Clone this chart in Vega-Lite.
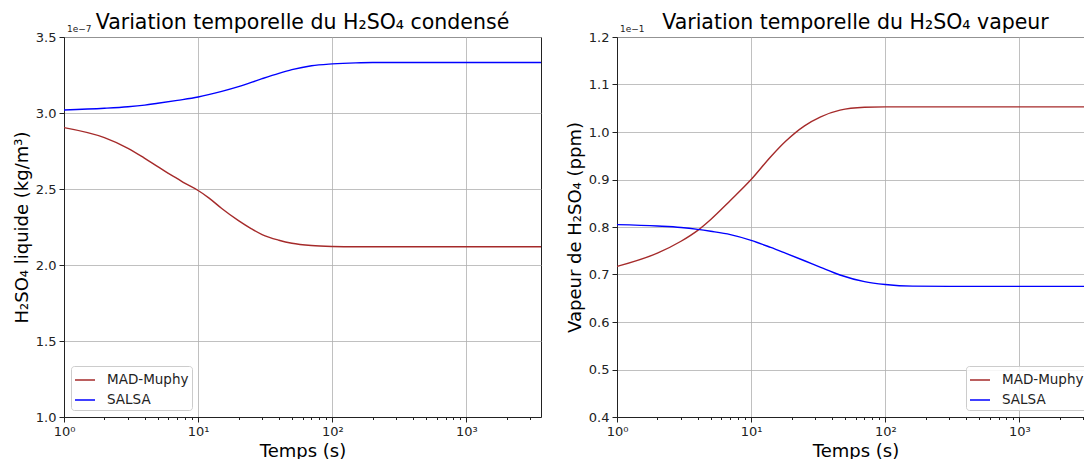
{
  "$schema": "https://vega.github.io/schema/vega-lite/v6.json",
  "padding": {"left": 12, "top": 12, "right": 0, "bottom": 0},
  "spacing": 23,
  "config": {
    "font": "DejaVu Sans",
    "view": {"stroke": "#222", "strokeWidth": 1},
    "title": {"fontSize": 20.5, "fontWeight": "normal", "color": "#000", "anchor": "middle", "offset": -8},
    "axis": {
      "labelFontSize": 13, "labelColor": "#222", "titleFontSize": 18, "titleFontWeight": "normal", "titleColor": "#000",
      "domainColor": "#222", "tickColor": "#222", "gridColor": "#b0b0b0", "gridWidth": 0.8,
      "labelPadding": 3, "titlePadding": 4
    },
    "legend": {
      "orient": "bottom-left", "title": null, "labelFontSize": 13.5, "labelColor": "#222",
      "symbolType": "stroke", "symbolSize": 400, "symbolStrokeWidth": 1.5,
      "strokeColor": "#cccccc", "fillColor": "rgba(255,255,255,0.85)", "cornerRadius": 3,
      "padding": 3, "rowPadding": 2, "labelOffset": 11, "offset": 7
    }
  },
  "datasets": {
    "cond": [
      {"t": 1, "model": "MAD-Muphy", "value": 2.904e-7},
      {"t": 2, "model": "MAD-Muphy", "value": 2.838e-7},
      {"t": 3, "model": "MAD-Muphy", "value": 2.768e-7},
      {"t": 4, "model": "MAD-Muphy", "value": 2.702e-7},
      {"t": 5, "model": "MAD-Muphy", "value": 2.647e-7},
      {"t": 6, "model": "MAD-Muphy", "value": 2.603e-7},
      {"t": 7, "model": "MAD-Muphy", "value": 2.568e-7},
      {"t": 8, "model": "MAD-Muphy", "value": 2.537e-7},
      {"t": 10, "model": "MAD-Muphy", "value": 2.490e-7},
      {"t": 12, "model": "MAD-Muphy", "value": 2.442e-7},
      {"t": 15, "model": "MAD-Muphy", "value": 2.372e-7},
      {"t": 20, "model": "MAD-Muphy", "value": 2.292e-7},
      {"t": 25, "model": "MAD-Muphy", "value": 2.238e-7},
      {"t": 30, "model": "MAD-Muphy", "value": 2.200e-7},
      {"t": 40, "model": "MAD-Muphy", "value": 2.163e-7},
      {"t": 50, "model": "MAD-Muphy", "value": 2.143e-7},
      {"t": 70, "model": "MAD-Muphy", "value": 2.128e-7},
      {"t": 100, "model": "MAD-Muphy", "value": 2.122e-7},
      {"t": 150, "model": "MAD-Muphy", "value": 2.120e-7},
      {"t": 200, "model": "MAD-Muphy", "value": 2.120e-7},
      {"t": 500, "model": "MAD-Muphy", "value": 2.120e-7},
      {"t": 1000, "model": "MAD-Muphy", "value": 2.120e-7},
      {"t": 3600, "model": "MAD-Muphy", "value": 2.120e-7},
      {"t": 1, "model": "SALSA", "value": 3.020e-7},
      {"t": 2, "model": "SALSA", "value": 3.031e-7},
      {"t": 3, "model": "SALSA", "value": 3.041e-7},
      {"t": 4, "model": "SALSA", "value": 3.052e-7},
      {"t": 5, "model": "SALSA", "value": 3.064e-7},
      {"t": 7, "model": "SALSA", "value": 3.083e-7},
      {"t": 10, "model": "SALSA", "value": 3.105e-7},
      {"t": 15, "model": "SALSA", "value": 3.142e-7},
      {"t": 20, "model": "SALSA", "value": 3.173e-7},
      {"t": 30, "model": "SALSA", "value": 3.226e-7},
      {"t": 40, "model": "SALSA", "value": 3.261e-7},
      {"t": 50, "model": "SALSA", "value": 3.285e-7},
      {"t": 70, "model": "SALSA", "value": 3.311e-7},
      {"t": 100, "model": "SALSA", "value": 3.323e-7},
      {"t": 150, "model": "SALSA", "value": 3.330e-7},
      {"t": 200, "model": "SALSA", "value": 3.332e-7},
      {"t": 500, "model": "SALSA", "value": 3.332e-7},
      {"t": 1000, "model": "SALSA", "value": 3.332e-7},
      {"t": 3600, "model": "SALSA", "value": 3.332e-7}
    ],
    "vap": [
      {"t": 1, "model": "MAD-Muphy", "value": 0.0717},
      {"t": 2, "model": "MAD-Muphy", "value": 0.0745},
      {"t": 3, "model": "MAD-Muphy", "value": 0.0770},
      {"t": 4, "model": "MAD-Muphy", "value": 0.0793},
      {"t": 5, "model": "MAD-Muphy", "value": 0.0816},
      {"t": 7, "model": "MAD-Muphy", "value": 0.0856},
      {"t": 10, "model": "MAD-Muphy", "value": 0.0900},
      {"t": 14, "model": "MAD-Muphy", "value": 0.0948},
      {"t": 18, "model": "MAD-Muphy", "value": 0.0980},
      {"t": 25, "model": "MAD-Muphy", "value": 0.1013},
      {"t": 33, "model": "MAD-Muphy", "value": 0.1032},
      {"t": 46, "model": "MAD-Muphy", "value": 0.1046},
      {"t": 70, "model": "MAD-Muphy", "value": 0.1052},
      {"t": 100, "model": "MAD-Muphy", "value": 0.1053},
      {"t": 200, "model": "MAD-Muphy", "value": 0.1053},
      {"t": 1000, "model": "MAD-Muphy", "value": 0.1053},
      {"t": 3600, "model": "MAD-Muphy", "value": 0.1053},
      {"t": 1, "model": "SALSA", "value": 0.0805},
      {"t": 2, "model": "SALSA", "value": 0.0802},
      {"t": 3, "model": "SALSA", "value": 0.0799},
      {"t": 4, "model": "SALSA", "value": 0.0795},
      {"t": 5, "model": "SALSA", "value": 0.0791},
      {"t": 7, "model": "SALSA", "value": 0.0784},
      {"t": 10, "model": "SALSA", "value": 0.0772},
      {"t": 14, "model": "SALSA", "value": 0.0757},
      {"t": 18, "model": "SALSA", "value": 0.0745},
      {"t": 25, "model": "SALSA", "value": 0.0729},
      {"t": 33, "model": "SALSA", "value": 0.0715},
      {"t": 46, "model": "SALSA", "value": 0.0699},
      {"t": 70, "model": "SALSA", "value": 0.0685},
      {"t": 100, "model": "SALSA", "value": 0.0679},
      {"t": 160, "model": "SALSA", "value": 0.06755},
      {"t": 300, "model": "SALSA", "value": 0.0675},
      {"t": 1000, "model": "SALSA", "value": 0.0675},
      {"t": 3600, "model": "SALSA", "value": 0.0675}
    ],
    "offcond": [{"t": 1, "value": 3.5e-7, "label": "1e−7"}],
    "offvap": [{"t": 1, "value": 0.12, "label": "1e−1"}]
  },
  "hconcat": [
    {
      "width": 477,
      "height": 380,
      "title": "Variation temporelle du H₂SO₄ condensé",
      "layer": [
        {
          "data": {"name": "cond"},
          "mark": {"type": "line", "strokeWidth": 1.4, "clip": true, "interpolate": "monotone"},
          "encoding": {
            "x": {
              "field": "t", "type": "quantitative", "title": "Temps (s)",
              "scale": {"type": "log", "domain": [1, 3600], "nice": false},
              "axis": {
                "values": [1,2,3,4,5,6,7,8,9,10,20,30,40,50,60,70,80,90,100,200,300,400,500,600,700,800,900,1000,2000,3000],
                "labelExpr": "datum.value == 1 ? '10⁰' : datum.value == 10 ? '10¹' : datum.value == 100 ? '10²' : datum.value == 1000 ? '10³' : ''",
                "tickSize": {"condition": {"test": "datum.value == 1 || datum.value == 10 || datum.value == 100 || datum.value == 1000", "value": 5}, "value": 2.5},
                "gridOpacity": {"condition": {"test": "datum.value == 1 || datum.value == 10 || datum.value == 100 || datum.value == 1000", "value": 1}, "value": 0},
                "labelFlush": false
              }
            },
            "y": {
              "field": "value", "type": "quantitative", "title": "H₂SO₄ liquide (kg/m³)",
              "scale": {"domain": [1e-7, 3.5e-7], "nice": false, "zero": false},
              "axis": {"values": [1e-7, 1.5e-7, 2e-7, 2.5e-7, 3e-7, 3.5e-7], "labelExpr": "format(datum.value * 1e7, '.1f')", "tickSize": 5}
            },
            "color": {
              "field": "model", "type": "nominal",
              "scale": {"domain": ["MAD-Muphy", "SALSA"], "range": ["#a52a2a", "#0000ff"]},
              "legend": {"orient": "bottom-left"}
            }
          }
        },
        {
          "data": {"name": "offcond"},
          "mark": {"type": "text", "align": "left", "baseline": "bottom", "dx": 3, "dy": -3, "fontSize": 9, "color": "#222"},
          "encoding": {
            "x": {"field": "t", "type": "quantitative"},
            "y": {"field": "value", "type": "quantitative"},
            "text": {"field": "label"}
          }
        }
      ]
    },
    {
      "width": 477,
      "height": 380,
      "title": "Variation temporelle du H₂SO₄ vapeur",
      "layer": [
        {
          "data": {"name": "vap"},
          "mark": {"type": "line", "strokeWidth": 1.4, "clip": true, "interpolate": "monotone"},
          "encoding": {
            "x": {
              "field": "t", "type": "quantitative", "title": "Temps (s)",
              "scale": {"type": "log", "domain": [1, 3600], "nice": false},
              "axis": {
                "values": [1,2,3,4,5,6,7,8,9,10,20,30,40,50,60,70,80,90,100,200,300,400,500,600,700,800,900,1000,2000,3000],
                "labelExpr": "datum.value == 1 ? '10⁰' : datum.value == 10 ? '10¹' : datum.value == 100 ? '10²' : datum.value == 1000 ? '10³' : ''",
                "tickSize": {"condition": {"test": "datum.value == 1 || datum.value == 10 || datum.value == 100 || datum.value == 1000", "value": 5}, "value": 2.5},
                "gridOpacity": {"condition": {"test": "datum.value == 1 || datum.value == 10 || datum.value == 100 || datum.value == 1000", "value": 1}, "value": 0},
                "labelFlush": false
              }
            },
            "y": {
              "field": "value", "type": "quantitative", "title": "Vapeur de H₂SO₄ (ppm)",
              "scale": {"domain": [0.04, 0.12], "nice": false, "zero": false},
              "axis": {"values": [0.04, 0.05, 0.06, 0.07, 0.08, 0.09, 0.1, 0.11, 0.12], "labelExpr": "format(datum.value * 10, '.1f')", "tickSize": 5}
            },
            "color": {
              "field": "model", "type": "nominal",
              "scale": {"domain": ["MAD-Muphy", "SALSA"], "range": ["#a52a2a", "#0000ff"]},
              "legend": {"orient": "bottom-right"}
            }
          }
        },
        {
          "data": {"name": "offvap"},
          "mark": {"type": "text", "align": "left", "baseline": "bottom", "dx": 3, "dy": -3, "fontSize": 9, "color": "#222"},
          "encoding": {
            "x": {"field": "t", "type": "quantitative"},
            "y": {"field": "value", "type": "quantitative"},
            "text": {"field": "label"}
          }
        }
      ]
    }
  ],
  "resolve": {"scale": {"x": "independent", "y": "independent", "color": "independent"}, "legend": {"color": "independent"}}
}
